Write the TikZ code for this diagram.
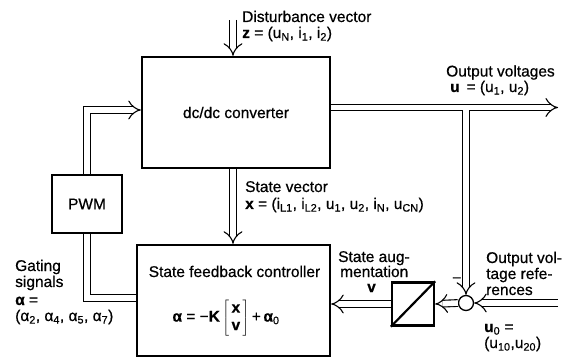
\documentclass[tikz,border=0pt]{standalone}
\usepackage{fontspec}
\setmainfont{Liberation Sans}[FakeBold=0.6]
\usetikzlibrary{arrows.meta}
\newcommand{\sbs}[1]{\textsubscript{#1}}
\begin{document}
\begin{tikzpicture}[x=1pt,y=-1pt,
  font=\fontsize{15.5}{16.5}\selectfont,
  blk/.style={draw, line width=2.4pt, inner sep=0pt},
  txt/.style={inner sep=0pt, anchor=base west},
  dbl/.style={draw, line width=1.1pt, double, double distance=5.6pt},
  dbla/.style={dbl, -{Implies[scale=1.3]}}]
\useasboundingbox (0,0) rectangle (565,358);
% blocks
\node[blk, minimum width=188pt, minimum height=111pt] (conv) at (236,112.5) {dc/dc converter};
\node[blk, minimum width=193pt, minimum height=111pt] (ctrl) at (233.5,300.5) {};
\node[blk, minimum width=70pt, minimum height=58pt] (pwm) at (87,204) {PWM};
\node[blk, minimum width=42pt, minimum height=43pt] (intg) at (413,304) {};
\draw[line width=2.2pt] (intg.south west) -- (intg.north east);
\node[draw, line width=1.3pt, circle, minimum size=15pt, inner sep=0pt] (sum) at (466,303) {};
% coordinates
\coordinate (zin) at (233,20);
\coordinate (uout) at (558,107.5);
\coordinate (br) at (466,110.4);
\coordinate (refin) at (558,303);
\coordinate (pwmy) at (0,110);
\coordinate (ctly) at (0,298);
% connectors
\draw[dbla] (zin) -- (zin |- conv.north);
\draw[dbla] (zin |- conv.south) -- (zin |- ctrl.north);
\draw[dbla] (conv.east |- uout) -- (uout);
\draw[dbla] (br) -- (sum.north);
\draw[dbla] (refin) -- (sum.east);
\draw[dbla] (sum.west) -- (intg.east);
\draw[dbla] (intg.west) -- (ctrl.east |- intg.west);
\draw[dbla] (pwm.north) |- (conv.west |- pwmy);
\draw[dbl] (ctrl.west |- ctly) -| (pwm.south);
% texts
\node[txt] (t1) at (242,22) {Disturbance vector};
\node[txt] (t2) at (242,38) {\textbf{z} = (u\sbs{N}, i\sbs{1}, i\sbs{2})};
\node[txt] (t3) at (446,76.5) {Output voltages};
\node[txt] (t4) at (450,92) {\textbf{u} \,= (u\sbs{1}, u\sbs{2})};
\node[txt] (t5) at (245,192) {State vector};
\node[txt] (t6) at (245,209) {\textbf{x} = (i\sbs{L1}, i\sbs{L2}, u\sbs{1}, u\sbs{2}, i\sbs{N}, u\sbs{CN})};
\node[txt] (t7) at (15,271) {Gating};
\node[txt] (t8) at (15,287) {signals};
\node[txt] (t9) at (15,305) {\textbf{α} =};
\node[txt] (t10) at (15,321) {(α\sbs{2}, α\sbs{4}, α\sbs{5}, α\sbs{7})};
\node[inner sep=0pt, anchor=base] (t11) at (234.5,277) {State feedback controller};
\node[inner sep=0pt] (t12) at (226,318) {\textbf{α} = −\textbf{K}\,$\left[\begin{array}{@{\,}c@{\,}}\textbf{x}\\[1pt]\textbf{v}\end{array}\right]$\,+\,\textbf{α}\sbs{0}};
\node[txt] (t13) at (338,262) {State aug-};
\node[txt] (t14) at (340,277) {mentation};
\node[txt] (t15) at (367,292) {\textbf{v}};
\node[txt] (t16) at (486,263) {Output vol-};
\node[txt] (t17) at (486,279) {tage refe-};
\node[txt] (t18) at (486,295) {rences};
\node[txt] (t19) at (452,283) {−};
\node[txt] (t20) at (484,332) {\textbf{u}\sbs{0} =};
\node[txt] (t21) at (484,348) {(u\sbs{10},u\sbs{20})};
\end{tikzpicture}
\end{document}
